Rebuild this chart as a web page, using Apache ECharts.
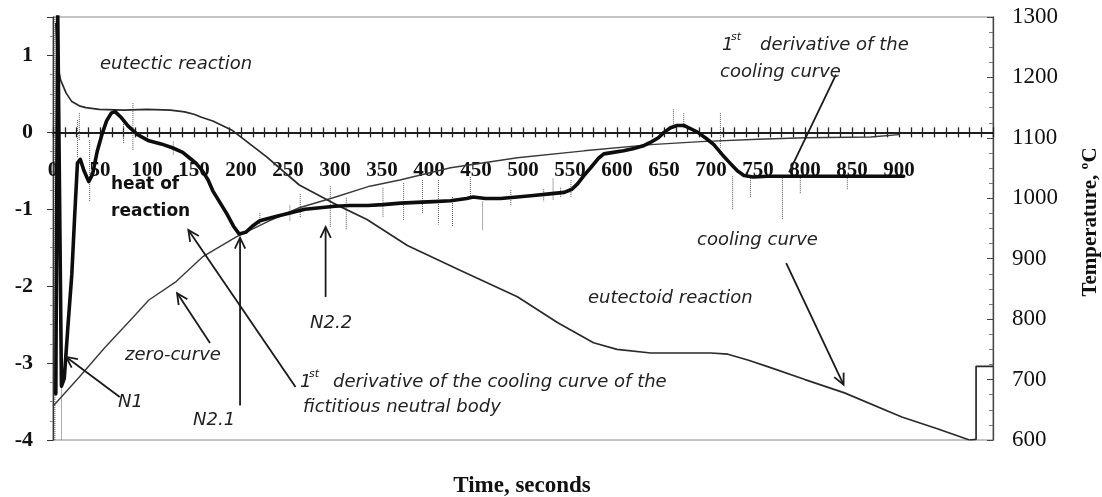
<!DOCTYPE html>
<html><head><meta charset="utf-8">
<script src="https://cdn.jsdelivr.net/npm/echarts@6/dist/echarts.min.js"></script>
<style>html,body{margin:0;padding:0;background:#fff}#c{width:1102px;height:497px}</style>
</head><body><div id="c"></div>
<script>
// ---- data ----
const derivTime  = [3, 5, 7, 9, 12, 16, 20, 23, 26, 29, 33, 38, 42, 47, 52, 57, 62, 66, 72, 80, 90, 102, 115, 127, 138, 145, 152, 159, 165, 170, 178, 185, 192, 198, 205, 212, 220, 235, 252, 268, 284, 300, 316, 335, 351, 370, 387, 405, 423, 440, 447, 460, 476, 494, 511, 528, 544, 552, 558, 565, 572, 580, 586, 596, 607, 618, 629, 637, 644, 650, 657, 664, 671, 678, 686, 695, 703, 712, 721, 728, 735, 745, 760, 780, 800, 830, 860, 880, 905];
const derivValue = [-3.4, 1.6, 1.6, -3.3, -3.2, -2.5, -1.85, -1.1, -0.4, -0.35, -0.5, -0.64, -0.55, -0.25, -0.03, 0.15, 0.25, 0.27, 0.2, 0.08, -0.03, -0.11, -0.15, -0.2, -0.26, -0.33, -0.4, -0.5, -0.62, -0.76, -0.92, -1.06, -1.22, -1.32, -1.3, -1.22, -1.15, -1.1, -1.05, -1.0, -0.98, -0.96, -0.95, -0.95, -0.94, -0.92, -0.91, -0.9, -0.89, -0.86, -0.84, -0.86, -0.86, -0.84, -0.82, -0.8, -0.78, -0.74, -0.67, -0.56, -0.46, -0.34, -0.28, -0.26, -0.24, -0.21, -0.17, -0.12, -0.07, 0.0, 0.06, 0.09, 0.09, 0.05, 0.0, -0.08, -0.16, -0.29, -0.41, -0.5, -0.56, -0.58, -0.57, -0.57, -0.57, -0.57, -0.57, -0.57, -0.57];

const zeroTime  = [0, 28, 55, 84, 102, 131, 159, 195, 230, 262, 298, 337, 369, 423, 494, 565, 636, 689, 750, 800, 870, 900];
const zeroValue = [-3.56, -3.18, -2.8, -2.42, -2.18, -1.94, -1.62, -1.36, -1.15, -0.98, -0.85, -0.7, -0.62, -0.46, -0.33, -0.24, -0.16, -0.12, -0.09, -0.07, -0.06, -0.03];

const coolTime = [3, 5, 8, 14, 20, 28, 35, 49, 75, 100, 125, 140, 150, 158, 170, 191, 227, 262, 298, 334, 377, 433, 494, 537, 575, 600, 636, 671, 700, 718, 740, 761, 800, 842, 903, 940, 975];
const coolTemp = [1290, 1220, 1196, 1174, 1160, 1153, 1150, 1147, 1146, 1147, 1146, 1143, 1139, 1134, 1128, 1112, 1069, 1022, 992, 965, 922, 881, 837, 794, 761, 750, 744, 744, 744, 742, 732, 721, 700, 678, 638, 619, 600];

const stepTime = [975, 982, 982, 1000];
const stepTemp = [600, 601, 722, 722];

// raw (noisy) derivative readings: dotted vertical excursions
const spikeTime = [2, 9, 26, 28, 39, 75, 85, 128, 220, 252, 263, 295, 312, 351, 373, 393, 410, 425, 444, 457, 487, 522, 532, 540, 551, 660, 671, 710, 723, 742, 776, 795, 845];
const spikeFrom = [1.5, -3.2, 0.16, 0.25, -0.1, 0.16, 0.38, -0.12, -1.05, -0.95, -0.8, -0.7, -0.85, -0.72, -0.66, -0.62, -0.62, -0.84, -0.58, -0.9, -0.75, -0.74, -0.6, -0.72, -0.62, 0.3, 0.25, 0.25, -0.57, -0.57, -0.57, -0.57, -0.57];
const spikeTo   = [-4, -4, -0.33, -0.1, -0.9, -0.14, -0.23, -0.3, -1.2, -1.15, -1.1, -1.23, -1.27, -1.1, -1.14, -1.05, -1.2, -1.23, -0.84, -1.27, -0.95, -0.9, -0.88, -0.85, -0.84, 0.07, 0.05, -0.2, -1.0, -0.84, -1.14, -0.8, -0.75];

const xTickLabels = [0, 50, 100, 150, 200, 250, 300, 350, 400, 450, 500, 550, 600, 650, 700, 750, 800, 850, 900];
const leftTickLabels = [-4, -3, -2, -1, 0, 1];
const rightTickLabels = [600, 700, 800, 900, 1000, 1100, 1200, 1300];

// ---- build ----
const zip = (a, b) => a.map((v, i) => [v, b[i]]);
const spikeData = [];
spikeTime.forEach((t, i) => { spikeData.push([t, spikeFrom[i]], [t, spikeTo[i]], [t, '-']); });

const GRID = {left: 53, right: 109, top: 17, bottom: 57};
const H = 497, plotH = H - GRID.top - GRID.bottom;
const LMIN = -4, LMAX = 1.5;
// pixel row of value 0 on the left axis, used to lay the time axis across the zero line
const zeroY = GRID.top + plotH * (LMAX - 0) / (LMAX - LMIN);
const topOffset = -(zeroY - GRID.top);
const bottomOffset = -(H - GRID.bottom - zeroY);

const chart = echarts.init(document.getElementById('c'), null, {renderer: 'canvas'});
const serif = '"Liberation Serif", "Times New Roman", serif';
const sans = '"DejaVu Sans", Verdana, sans-serif';

const xAxisBase = {
  type: 'value', min: 0, max: 1000, interval: 12.5,
  splitLine: {show: false},
  axisLine: {show: true, onZero: false, lineStyle: {color: '#111', width: 1.6}},
};

chart.setOption({
  animation: false,
  backgroundColor: '#fff',
  grid: Object.assign({show: true, borderColor: '#888', borderWidth: 1, containLabel: false}, GRID),
  xAxis: [
    Object.assign({}, xAxisBase, {
      position: 'bottom', offset: bottomOffset,
      axisTick: {show: true, length: 5, lineStyle: {color: '#222', width: 1.3}},
      axisLabel: {
        show: true, margin: 28, color: '#111', fontFamily: serif, fontWeight: 'bold', fontSize: 21,
        formatter: v => xTickLabels.indexOf(v) >= 0 ? String(v) : ''
      }
    }),
    Object.assign({}, xAxisBase, {
      position: 'top', offset: topOffset,
      axisTick: {show: true, length: 5, lineStyle: {color: '#222', width: 1.3}},
      axisLabel: {show: false}
    })
  ],
  yAxis: [
    {
      type: 'value', min: LMIN, max: LMAX, interval: 1, position: 'left',
      splitLine: {show: false},
      axisLine: {show: true, onZero: false, lineStyle: {color: '#333', width: 1.3}},
      axisTick: {show: true, length: 6, lineStyle: {color: '#333'}},
      minorTick: {show: true, splitNumber: 4, length: 3, lineStyle: {color: '#888'}},
      axisLabel: {
        margin: 20, color: '#111', fontFamily: serif, fontWeight: 'bold', fontSize: 22,
        formatter: v => leftTickLabels.indexOf(v) >= 0 ? String(v) : ''
      }
    },
    {
      type: 'value', min: 600, max: 1300, interval: 100, position: 'right',
      splitLine: {show: false},
      axisLine: {show: true, onZero: false, lineStyle: {color: '#444', width: 1.3}},
      axisTick: {show: true, inside: true, length: 6, lineStyle: {color: '#444'}},
      minorTick: {show: true, splitNumber: 4, length: 4, lineStyle: {color: '#777'}},
      axisLabel: {
        margin: 19, color: '#111', fontFamily: serif, fontSize: 23,
        formatter: v => rightTickLabels.indexOf(v) >= 0 ? String(v) : ''
      }
    }
  ],
  series: [
    {name: 'raw derivative', type: 'line', xAxisIndex: 0, yAxisIndex: 0, data: spikeData, symbol: 'none',
     connectNulls: false, lineStyle: {type: 'dotted', width: 1, color: '#555'}, z: 2, silent: true},
    {name: 'zero-curve', type: 'line', xAxisIndex: 0, yAxisIndex: 0, data: zip(zeroTime, zeroValue), symbol: 'none',
     lineStyle: {width: 1.4, color: '#3a3a3a'}, z: 3, silent: true},
    {name: 'cooling curve', type: 'line', xAxisIndex: 0, yAxisIndex: 1, data: zip(coolTime, coolTemp), symbol: 'none',
     lineStyle: {width: 1.7, color: '#2a2a2a'}, z: 3, silent: true},
    {name: 'end step', type: 'line', xAxisIndex: 0, yAxisIndex: 1, data: zip(stepTime, stepTemp), symbol: 'none',
     lineStyle: {width: 1.7, color: '#2a2a2a'}, z: 3, silent: true},
    {name: '1st derivative', type: 'line', xAxisIndex: 0, yAxisIndex: 0, data: zip(derivTime, derivValue), symbol: 'none',
     lineStyle: {width: 3.6, color: '#0d0d0d', join: 'round', cap: 'round'}, z: 5, silent: true}
  ]
});

// ---- annotations ----
const arrows = [
  // [fromT, fromV, toT, toV, head]
  [258, -3.31, 144, -1.27, true],   // fictitious neutral body
  [167, -2.74, 132, -2.09, true],   // zero-curve
  [71, -3.44, 14, -2.92, true],     // N1
  [199, -3.55, 199, -1.37, true],   // N2.1
  [290, -2.14, 290, -1.23, true],   // N2.2
  [780, -1.70, 841, -3.28, true],   // cooling curve
  [833, 0.75, 783, -0.52, false]    // 1st derivative
];
const gfx = [];
arrows.forEach(a => {
  const p0 = chart.convertToPixel({xAxisIndex: 0, yAxisIndex: 0}, [a[0], a[1]]);
  const p1 = chart.convertToPixel({xAxisIndex: 0, yAxisIndex: 0}, [a[2], a[3]]);
  gfx.push({type: 'line', shape: {x1: p0[0], y1: p0[1], x2: p1[0], y2: p1[1]}, style: {stroke: '#1a1a1a', lineWidth: 1.8}, z: 10});
  if (a[4]) {
    const dx = p0[0] - p1[0], dy = p0[1] - p1[1];
    const L = Math.hypot(dx, dy), ux = dx / L, uy = dy / L;
    const ang = 0.45, len = 12;
    const r = s => [p1[0] + len * (ux * Math.cos(s) - uy * Math.sin(s)), p1[1] + len * (ux * Math.sin(s) + uy * Math.cos(s))];
    gfx.push({type: 'polyline', shape: {points: [r(ang), [p1[0], p1[1]], r(-ang)]}, style: {stroke: '#1a1a1a', lineWidth: 1.8, fill: null}, z: 10});
  }
});
function txt(s, x, y, font, opts) {
  const o = Object.assign({align: 'left', color: '#222', rot: 0}, opts || {});
  gfx.push({type: 'text', x: x, y: y, rotation: o.rot, z: 11,
    style: {text: s, font: font, fill: o.color, textAlign: o.align, textVerticalAlign: 'middle', align: o.align, verticalAlign: 'middle'}});
}
const it = 'italic 18px ' + sans;
const itSup = 'italic 11px ' + sans;
txt('eutectic reaction', 100, 64, it);
txt('1', 722, 45, it);
txt('st', 731, 37, itSup);
txt('derivative of the', 760, 45, it);
txt('cooling curve', 720, 72, it);
txt('heat of', 111, 185, 'bold 17px ' + sans, {color: '#111'});
txt('reaction', 111, 212, 'bold 17px ' + sans, {color: '#111'});
txt('cooling curve', 697, 240, it);
txt('eutectoid reaction', 588, 298, it);
txt('N2.2', 310, 323, it);
txt('zero-curve', 125, 355, it);
txt('N1', 118, 402, it);
txt('N2.1', 193, 420, it);
txt('1', 300, 382, it);
txt('st', 309, 374, itSup);
txt('derivative of the cooling curve of the', 333, 382, it);
txt('fictitious neutral body', 303, 407, it);
txt('Time, seconds', 522, 486, 'bold 23px ' + serif, {align: 'center', color: '#111'});
txt('Temperature, \u00baC', 1091, 222, 'bold 21px ' + serif, {align: 'center', color: '#111', rot: Math.PI / 2});
chart.setOption({graphic: gfx});
</script>
</body></html>
